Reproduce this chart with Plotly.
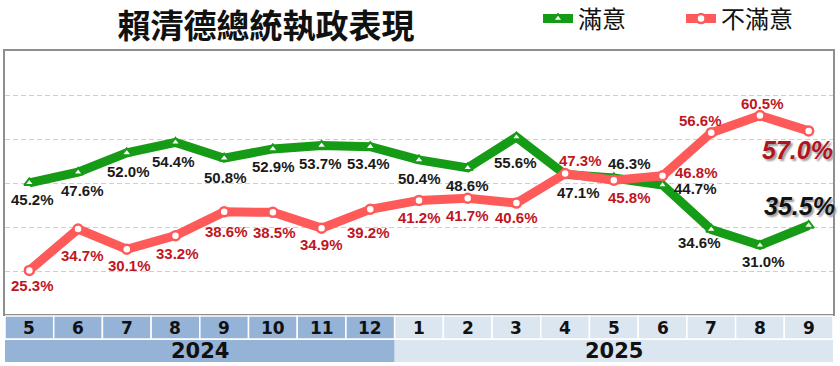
import plotly.graph_objects as go

# ---------------- data ----------------
months = ["5", "6", "7", "8", "9", "10", "11", "12", "1", "2", "3", "4", "5", "6", "7", "8", "9"]
years = ["2024", "2025"]
year_month_counts = [8, 9]
satisfied = [45.2, 47.6, 52.0, 54.4, 50.8, 52.9, 53.7, 53.4, 50.4, 48.6, 55.6, 47.1, 46.3, 44.7, 34.6, 31.0, 35.5]
dissatisfied = [25.3, 34.7, 30.1, 33.2, 38.6, 38.5, 34.9, 39.2, 41.2, 41.7, 40.6, 47.3, 45.8, 46.8, 56.6, 60.5, 57.0]
series_names = ["滿意", "不滿意"]
title_text = "賴清德總統執政表現"

# ---------------- label offsets (pixels, style only) ----------------
sat_dx = [3, 4, 2, -2, 1, 1, -1, -2, 0, 0, -1, 13, 16, 33, -12, 4, -9]
sat_dy = [17, 18, 19, 19, 19, 18, 18, 17, 19, 18, 25, 18, -14, 3, 13, 16, -20]
dis_dx = [3, 4, 3, 2, 2, 2, 0, -2, 0, 0, 0, 15, 16, 34, -11, 3, -11]
dis_dy = [15, 26, 16, 18, 20, 20, 16, 23, 17, 17, 14, -13, 17, -3, -12, -12, 19]

GREEN = "#169B16"
RED = "#FF5A5A"
DARKRED = "#C0161E"
TXT = "#1a1a1a"

W, H = 840, 366
L, R, T, B = 5, 5, 51, 52
PH = H - T - B

def py(y_px):
    """pixel row -> paper y"""
    return (H - B - y_px) / PH

x = list(range(len(months)))

fig = go.Figure()
fig.add_trace(go.Scatter(
    x=x, y=satisfied, name=series_names[0], mode="lines+markers",
    line=dict(color=GREEN, width=9),
    marker=dict(symbol="triangle-up", size=9, color="white",
                line=dict(color=GREEN, width=2)),
    cliponaxis=False, hoverinfo="skip"))
fig.add_trace(go.Scatter(
    x=x, y=dissatisfied, name=series_names[1], mode="lines+markers",
    line=dict(color=RED, width=9),
    marker=dict(symbol="circle", size=9, color="white",
                line=dict(color=RED, width=2.5)),
    cliponaxis=False, hoverinfo="skip"))

annotations = []
n = len(months)
for i in range(n):
    big = (i == n - 1)
    for vals, dx, dy, col in ((satisfied, sat_dx, sat_dy, TXT), (dissatisfied, dis_dx, dis_dy, DARKRED)):
        if big:
            font = dict(family="Liberation Sans, Arial",
                        size=25, color=("#111111" if col == TXT else "#B0141E"),
                        weight="bold", style="italic", shadow="2px 2px 2px #9a9a9a")
        else:
            font = dict(family="Liberation Sans, Arial", size=15, color=col, weight="bold")
        annotations.append(dict(
            x=x[i], y=vals[i], xref="x", yref="y", text=f"{vals[i]:.1f}%",
            showarrow=False, xshift=dx[i], yshift=-dy[i], font=font,
            xanchor="center", yanchor="middle"))

# ---------------- table below the plot ----------------
shapes = []
C2024 = "#95B3D7"
C2025 = "#DCE6F1"
year_of_month = []
for yi, cnt in enumerate(year_month_counts):
    year_of_month += [yi] * cnt

row1_top, row1_bot = 316, 339
row2_top, row2_bot = 340, 362
for i in range(n):
    shapes.append(dict(type="rect", xref="x", yref="paper",
                       x0=i - 0.5, x1=i + 0.5, y0=py(row1_bot), y1=py(row1_top),
                       fillcolor=C2024 if year_of_month[i] == 0 else C2025,
                       line=dict(color="white", width=1.5), layer="above"))
    annotations.append(dict(x=i, y=py((row1_top + row1_bot) / 2), xref="x", yref="paper",
                            text=months[i], showarrow=False, yanchor="middle",
                            font=dict(family="DejaVu Sans", size=17, color="#111111", weight="bold")))
start = 0
for yi, cnt in enumerate(year_month_counts):
    shapes.append(dict(type="rect", xref="x", yref="paper",
                       x0=start - 0.5, x1=start + cnt - 0.5, y0=py(row2_bot), y1=py(row2_top),
                       fillcolor=C2024 if yi == 0 else C2025,
                       line=dict(width=0), layer="above"))
    annotations.append(dict(x=start + (cnt - 1) / 2, y=py((row2_top + row2_bot) / 2),
                            xref="x", yref="paper", text=years[yi], showarrow=False,
                            yanchor="middle",
                            font=dict(family="DejaVu Sans", size=21, color="#111111", weight="bold")))
    start += cnt

fig.update_layout(
    width=W, height=H,
    margin=dict(l=L, r=R, t=T, b=B),
    paper_bgcolor="white", plot_bgcolor="white",
    title=dict(text=title_text, x=266 / W, xref="container", xanchor="center",
               y=1 - 26 / H, yref="container", yanchor="middle",
               font=dict(family="Noto Sans CJK TC", size=33, color="#111111", weight="bold")),
    legend=dict(orientation="h", xref="container", yref="container",
                x=538 / W, xanchor="left", y=1 - 19 / H, yanchor="middle",
                entrywidth=98, entrywidthmode="pixels",
                font=dict(family="Noto Sans CJK TC", size=24, color="#111111"),
                bgcolor="rgba(0,0,0,0)"),
    xaxis=dict(range=[-0.5, n - 0.5], showgrid=False, zeroline=False,
               showticklabels=False, ticks="", showline=True, mirror=True,
               linecolor="#8f8f8f", linewidth=2),
    yaxis=dict(range=[15.39, 75.16], tickvals=[25, 35, 45, 55, 65],
               showgrid=True, gridcolor="#cfcfcf", griddash="5px,3px", gridwidth=1,
               zeroline=False, showticklabels=False, ticks="",
               showline=True, mirror=True, linecolor="#8f8f8f", linewidth=2),
    annotations=annotations, shapes=shapes,
    showlegend=True,
)

fig.write_html("out.html", config={"displayModeBar": False},
               post_script="document.body.style.margin='0';")
